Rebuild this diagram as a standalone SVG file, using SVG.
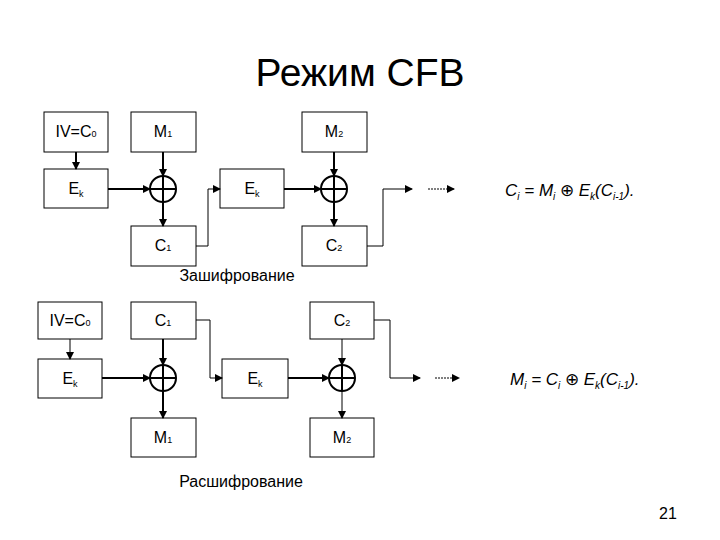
<svg xmlns="http://www.w3.org/2000/svg" width="720" height="540" viewBox="0 0 720 540">
<style>
.b{fill:#fff;stroke:#000;stroke-width:1}
.t{font-family:"Liberation Sans",Arial,sans-serif;font-size:16px;text-anchor:middle}
.s{font-size:9px}
.k{font-size:9px}
.w{fill:none;stroke:#000;stroke-width:2}
.n{fill:none;stroke:#000;stroke-width:1}
.f{font-family:"Liberation Sans",Arial,sans-serif;font-size:17px;font-style:italic}
</style>
<defs><marker id="a" markerWidth="8" markerHeight="8" refX="7" refY="4" orient="auto" markerUnits="userSpaceOnUse"><path d="M0,0L8,4L0,8z"/></marker></defs>
<rect width="720" height="540" fill="#fff"/>
<text x="360" y="86" font-family="Liberation Sans,Arial,sans-serif" font-size="39" text-anchor="middle">Режим CFB</text>
<g id="nodes">
<g id="iv1"><rect class="b" x="44" y="112" width="64" height="40"/><text class="t" x="76" y="137">IV=C<tspan class="s">0</tspan></text></g>
<g id="m1"><rect class="b" x="131" y="112" width="65" height="40"/><text class="t" x="163" y="137">M<tspan class="s">1</tspan></text></g>
<g id="ek1"><rect class="b" x="44" y="169" width="64" height="39"/><text class="t" x="76" y="194">E<tspan class="k" dy="3">k</tspan></text></g>
<g id="x1"><circle class="w" cx="163" cy="189" r="13"/><path class="w" d="M150,189H176M163,176V202"/></g>
<g id="c1"><rect class="b" x="131" y="226" width="65" height="40"/><text class="t" x="163" y="251">C<tspan class="s">1</tspan></text></g>
<g id="ek2"><rect class="b" x="220" y="169" width="64" height="39"/><text class="t" x="252" y="194">E<tspan class="k" dy="3">k</tspan></text></g>
<g id="m2"><rect class="b" x="302" y="112" width="65" height="40"/><text class="t" x="334" y="137">M<tspan class="s">2</tspan></text></g>
<g id="x2"><circle class="w" cx="334" cy="189" r="13"/><path class="w" d="M321,189H347M334,176V202"/></g>
<g id="c2"><rect class="b" x="302" y="226" width="65" height="40"/><text class="t" x="334" y="251">C<tspan class="s">2</tspan></text></g>
<text x="505" y="196" class="f">C<tspan font-size="10" dy="4">i</tspan><tspan dy="-4"> = M</tspan><tspan font-size="10" dy="4">i</tspan><tspan dy="-4" font-style="normal"> ⊕ </tspan><tspan>E</tspan><tspan font-size="10" dy="4">k</tspan><tspan dy="-4">(C</tspan><tspan font-size="10" dy="4">i-1</tspan><tspan dy="-4">).</tspan></text>
<text class="t" x="237" y="281" font-size="12">Зашифрование</text>

<g id="iv2"><rect class="b" x="38" y="302" width="64" height="37"/><text class="t" x="70" y="326">IV=C<tspan class="s">0</tspan></text></g>
<g id="c1b"><rect class="b" x="131" y="302" width="65" height="37"/><text class="t" x="163" y="326">C<tspan class="s">1</tspan></text></g>
<g id="ek3"><rect class="b" x="38" y="359" width="64" height="39"/><text class="t" x="70" y="384">E<tspan class="k" dy="3">k</tspan></text></g>
<g id="x3"><circle class="w" cx="163" cy="378" r="13"/><path class="w" d="M150,378H176M163,365V391"/></g>
<g id="m1b"><rect class="b" x="131" y="418" width="65" height="39"/><text class="t" x="163" y="443">M<tspan class="s">1</tspan></text></g>
<g id="ek4"><rect class="b" x="222" y="359" width="66" height="39"/><text class="t" x="255" y="384">E<tspan class="k" dy="3">k</tspan></text></g>
<g id="c2b"><rect class="b" x="310" y="302" width="64" height="37"/><text class="t" x="342" y="326">C<tspan class="s">2</tspan></text></g>
<g id="x4"><circle class="w" cx="342" cy="378" r="13"/><path class="w" d="M329,378H355M342,365V391"/></g>
<g id="m2b"><rect class="b" x="310" y="418" width="64" height="39"/><text class="t" x="342" y="443">M<tspan class="s">2</tspan></text></g>
<text x="510" y="385" class="f">M<tspan font-size="10" dy="4">i</tspan><tspan dy="-4"> = C</tspan><tspan font-size="10" dy="4">i</tspan><tspan dy="-4" font-style="normal"> ⊕ </tspan><tspan>E</tspan><tspan font-size="10" dy="4">k</tspan><tspan dy="-4">(C</tspan><tspan font-size="10" dy="4">i-1</tspan><tspan dy="-4">).</tspan></text>
<text class="t" x="241" y="487" font-size="12">Расшифрование</text>
<text class="t" x="668" y="519" font-size="13">21</text>
</g>
<g id="connectors">
<path class="w" d="M76,152V169" marker-end="url(#a)"/>
<path class="w" d="M163,152V176" marker-end="url(#a)"/>
<path class="w" d="M108,189H150" marker-end="url(#a)"/>
<path class="w" d="M163,202V226" marker-end="url(#a)"/>
<path class="n" d="M196,246H208V189H220" marker-end="url(#a)"/>
<path class="w" d="M284,189H321" marker-end="url(#a)"/>
<path class="w" d="M334,152V176" marker-end="url(#a)"/>
<path class="w" d="M334,202V226" marker-end="url(#a)"/>
<path class="n" d="M367,246H383V189H412" marker-end="url(#a)"/>
<path class="n" d="M428,189H454" stroke-dasharray="2,1" marker-end="url(#a)"/>

<path class="n" d="M70,339V359" marker-end="url(#a)"/>
<path class="w" d="M163,339V365" marker-end="url(#a)"/>
<path class="w" d="M102,378H150" marker-end="url(#a)"/>
<path class="w" d="M163,391V418" marker-end="url(#a)"/>
<path class="n" d="M196,320H210V378H222" marker-end="url(#a)"/>
<path class="w" d="M288,378H329" marker-end="url(#a)"/>
<path class="n" d="M342,339V365" marker-end="url(#a)"/>
<path class="n" d="M342,391V418" marker-end="url(#a)"/>
<path class="n" d="M374,320H390V378H420" marker-end="url(#a)"/>
<path class="n" d="M435,378H459" stroke-dasharray="2,1" marker-end="url(#a)"/>
</g>
</svg>
